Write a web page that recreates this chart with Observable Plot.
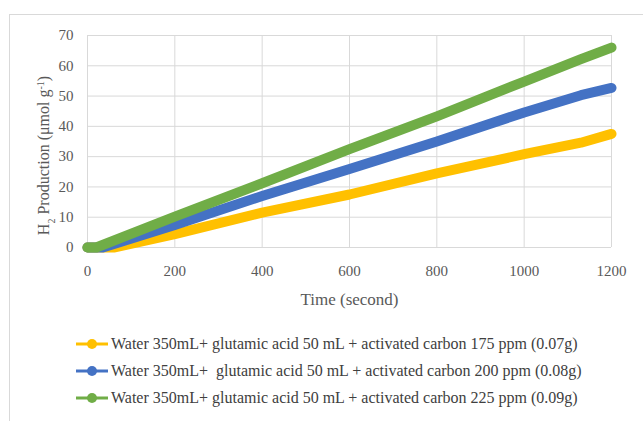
<!DOCTYPE html>
<html>
<head>
<meta charset="utf-8">
<script src="https://cdn.jsdelivr.net/npm/d3@7"></script>
<script src="https://cdn.jsdelivr.net/npm/@observablehq/plot@0.6"></script>
<style>
  html, body { margin: 0; padding: 0; background: #fff; }
  body { width: 643px; height: 421px; position: relative; overflow: hidden; font-family: "Liberation Serif", "Times New Roman", serif; }
  #frame { position: absolute; left: 9px; top: 14px; width: 700px; height: 500px; border: 1px solid #d9d9d9; box-sizing: border-box; }
  #chart { position: absolute; left: 0; top: 0; }
  #legend { position: absolute; left: 75px; top: 330px; }
  .item { height: 27px; display: flex; align-items: center; white-space: pre; font-size: 16px; color: #404040; }
  .item svg { margin-right: 2px; }
</style>
</head>
<body>
<div id="frame"></div>
<div id="chart"></div>
<div id="legend"></div>
<script>
// Series labels and colours
const seriesNames = [
  "Water 350mL+ glutamic acid 50 mL + activated carbon 175 ppm (0.07g)",
  "Water 350mL+  glutamic acid 50 mL + activated carbon 200 ppm (0.08g)",
  "Water 350mL+ glutamic acid 50 mL + activated carbon 225 ppm (0.09g)"
];
const seriesColors = ["#FFC000", "#4472C4", "#70AD47"];

// Time (second) and H2 production (µmol g-1)
const timeA = [0, 60, 200, 400, 600, 800, 1000, 1130, 1200];
const valuesA = [0, 0, 4.4, 11.5, 17.5, 24.5, 30.8, 34.6, 37.5];

const timeB = [0, 35, 200, 400, 600, 800, 1000, 1130, 1200];
const valuesB = [0, 0, 7.4, 17.0, 25.9, 35.0, 44.6, 50.3, 52.7];

const timeC = [0, 20, 200, 400, 600, 800, 1000, 1130, 1200];
const valuesC = [0, 0, 10.2, 21.2, 32.5, 43.3, 54.8, 62.2, 66.0];

const xTicks = [0, 200, 400, 600, 800, 1000, 1200];
const yTicks = [0, 10, 20, 30, 40, 50, 60, 70];

const times = [timeA, timeB, timeC];
const vals = [valuesA, valuesB, valuesC];
const data = [];
times.forEach((ts, i) => ts.forEach((t, j) => data.push({ t, v: vals[i][j], s: seriesNames[i] })));

const chart = Plot.plot({
  width: 643,
  height: 310,
  marginLeft: 87,
  marginRight: 32,
  marginTop: 35,
  marginBottom: 63,
  style: { fontFamily: "'Liberation Serif', 'Times New Roman', serif", background: "transparent", color: "#595959" },
  x: { domain: [0, 1200], ticks: xTicks },
  y: { domain: [0, 70], ticks: yTicks },
  color: { domain: seriesNames, range: seriesColors },
  marks: [
    Plot.gridX(xTicks, { stroke: "#d9d9d9", strokeOpacity: 1, strokeWidth: 1 }),
    Plot.gridY(yTicks, { stroke: "#d9d9d9", strokeOpacity: 1, strokeWidth: 1 }),
    Plot.axisX({ ticks: xTicks, tickFormat: d => String(d), tickSize: 0, tickPadding: 18, fontSize: 15, fill: "#595959",
      label: "Time (second)", labelAnchor: "center", labelOffset: 57, labelArrow: "none" }),
    Plot.axisY({ ticks: yTicks, tickFormat: d => String(d), tickSize: 0, tickPadding: 14, fontSize: 15, fill: "#595959",
      label: "H2 Production (μmol g-1)", labelAnchor: "center", labelOffset: 50, labelArrow: "none" }),
    Plot.line(data, { x: "t", y: "v", z: "s", stroke: "s", strokeWidth: 10, curve: "linear",
      strokeLinecap: "round", strokeLinejoin: "round" })
  ]
});
document.getElementById("chart").appendChild(chart);

// Style axis labels (font size, subscript / superscript)
const xl = chart.querySelector('[aria-label="x-axis label"]');
if (xl) { xl.setAttribute("font-size", 17); xl.querySelectorAll("text").forEach(t => t.setAttribute("fill", "#595959")); }
const yl = chart.querySelector('[aria-label="y-axis label"]');
if (yl) {
  yl.setAttribute("font-size", 16);
  const t = yl.querySelector("text");
  if (t) {
    t.setAttribute("fill", "#595959");
    t.textContent = "";
    const ns = "http://www.w3.org/2000/svg";
    const add = (txt, shift) => {
      const s = document.createElementNS(ns, "tspan");
      s.textContent = txt;
      if (shift) { s.setAttribute("baseline-shift", shift); s.setAttribute("font-size", 10); }
      t.appendChild(s);
    };
    add("H"); add("2", "sub"); add(" Production (μmol g"); add("-1", "super"); add(")");
    const prev = yl.getAttribute("transform") || "";
    yl.setAttribute("transform", `translate(0,14) ${prev}`);
  }
}

// Legend below the chart
const legend = document.getElementById("legend");
seriesNames.forEach((name, i) => {
  const row = document.createElement("div");
  row.className = "item";
  row.innerHTML = `<svg width="34" height="12"><line x1="1" y1="6" x2="33" y2="6" stroke="${seriesColors[i]}" stroke-width="3"/><circle cx="17" cy="6" r="5" fill="${seriesColors[i]}"/></svg>`;
  const span = document.createElement("span");
  span.textContent = name;
  row.appendChild(span);
  legend.appendChild(row);
});
</script>
</body>
</html>
